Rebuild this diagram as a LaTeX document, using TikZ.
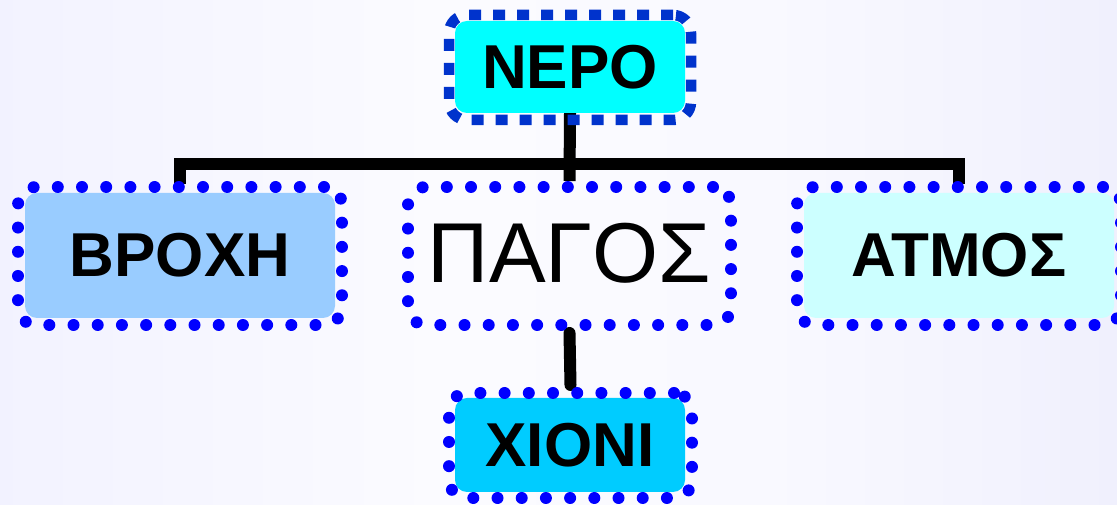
\documentclass[tikz,border=0pt]{standalone}
\usepackage{fontspec}
\setmainfont{Liberation Sans}
\pgfdeclarelayer{back}
\pgfdeclarelayer{lines}
\pgfsetlayers{back,lines,main}
\definecolor{dotblue}{RGB}{0,0,255}
\definecolor{dashblue}{RGB}{0,51,204}
\definecolor{neroc}{RGB}{0,255,255}
\definecolor{broxhc}{RGB}{153,204,255}
\definecolor{atmosc}{RGB}{204,255,255}
\definecolor{xionic}{RGB}{0,204,255}
\pgfdeclarehorizontalshading{bgshade}{100bp}{
  rgb(0bp)=(0.90,0.90,1);
  rgb(25bp)=(0.95,0.95,1);
  rgb(45bp)=(0.985,0.985,1);
  rgb(60bp)=(0.975,0.975,1);
  rgb(80bp)=(0.93,0.93,0.99);
  rgb(100bp)=(0.855,0.855,0.98)}
\tikzset{
  dotframe/.style={draw=dotblue, line width=12pt, line cap=round, dash pattern=on 0pt off 24.2pt, rounded corners=18pt, inner sep=0pt},
  dashframe/.style={draw=dashblue, line width=10.5pt, dash pattern=on 12pt off 12pt, rounded corners=18pt, inner sep=0pt},
  fillbox/.style={rounded corners=12pt, inner sep=0pt, font=\bfseries\fontsize{62}{70}\selectfont, text=black},
  conn/.style={line width=12pt, black},
}
\begin{document}
\begin{tikzpicture}[x=1pt,y=1pt]
\useasboundingbox (0,0) rectangle (1117,505);
\begin{pgfonlayer}{back}
\shade[shading=bgshade] (0,0) rectangle (1117,505);
\end{pgfonlayer}
% NERO
\node[dashframe, minimum width=242pt, minimum height=105pt] (nero) at (570,437.5) {};
\node[fillbox, fill=neroc, minimum width=230pt, minimum height=92pt] (neroF) at (570,438) {ΝΕΡΟ};
% BROXH
\node[fillbox, fill=broxhc, minimum width=310pt, minimum height=125pt] (broxhF) at (180,249.5) {ΒΡΟΧΗ};
\node[dotframe, minimum width=324pt, minimum height=138pt] (broxh) at (180,249) {};
% PAGOS
\node[dotframe, minimum width=323pt, minimum height=138pt] (pagos) at (569.5,249) {};
\node[inner sep=0pt, font=\fontsize{85}{90}\selectfont] (pagosT) at (569.5,252) {ΠΑΓΟΣ};
% ATMOS
\node[fillbox, fill=atmosc, minimum width=310pt, minimum height=125pt] (atmosF) at (959,249.5) {ΑΤΜΟΣ};
\node[dotframe, minimum width=324pt, minimum height=138pt] (atmos) at (959,249) {};
% XIONI
\node[fillbox, fill=xionic, minimum width=230pt, minimum height=94pt] (xioniF) at (570,60) {ΧΙΟΝΙ};
\node[dotframe, minimum width=243pt, minimum height=105pt] (xioni) at (570.5,59.5) {};
\coordinate (bar) at (570,341);
\begin{pgfonlayer}{lines}
\draw[conn] (neroF.south) -- (pagos.north);
\draw[conn] ([yshift=-3pt]broxh.north) -- (broxh.north |- bar) -- (atmos.north |- bar) -- ([yshift=-3pt]atmos.north);
\draw[conn, line cap=round] ([yshift=-2pt]pagos.south) -- ([yshift=2pt]xioni.north);
\end{pgfonlayer}
\end{tikzpicture}
\end{document}
